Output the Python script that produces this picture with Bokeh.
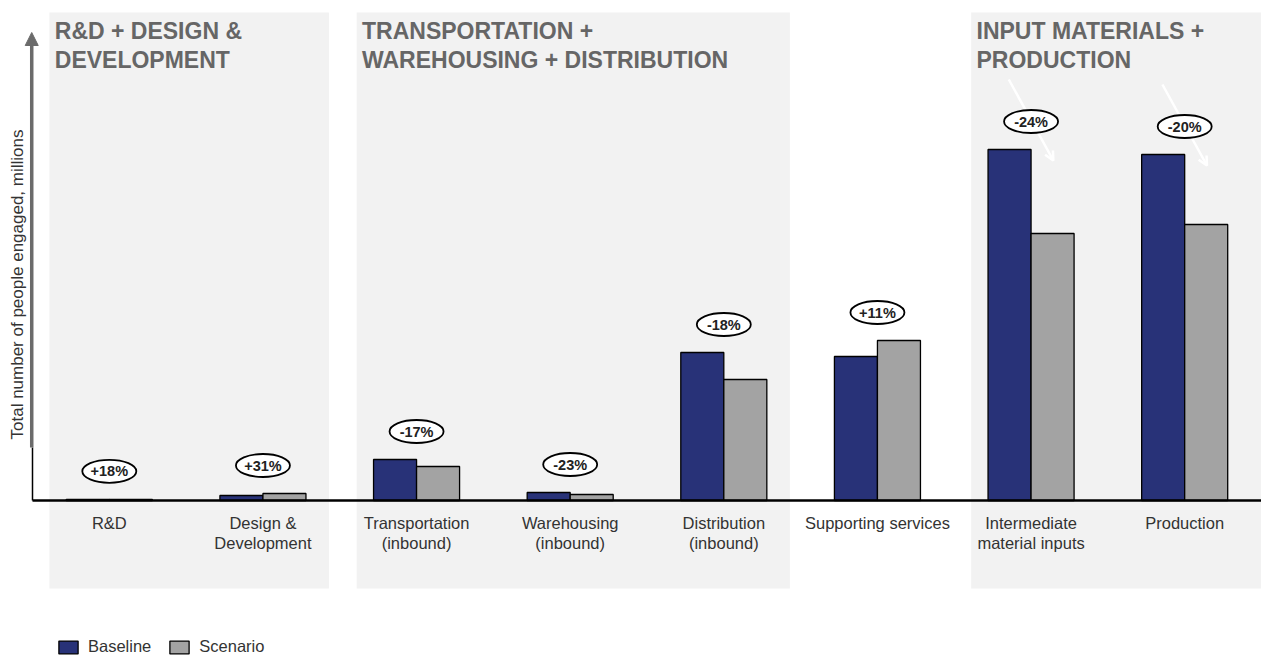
from bokeh.plotting import figure
from bokeh.models import Range1d, ColumnDataSource, Legend, LegendItem, Arrow, NormalHead, OpenHead
from bokeh.core.properties import value
from bokeh.embed import file_html
from bokeh.resources import INLINE
import numpy as np

# ---------------- data ----------------
categories = ["R&D", "Design &\nDevelopment", "Transportation\n(inbound)", "Warehousing\n(inbound)",
              "Distribution\n(inbound)", "Supporting services", "Intermediate\nmaterial inputs", "Production"]
baseline = [0.10, 0.5, 4.1, 0.8, 14.8, 14.4, 35.1, 34.6]
scenario = [0.12, 0.7, 3.4, 0.6, 12.1, 16.0, 26.7, 27.6]
changes = ["+18%", "+31%", "-17%", "-23%", "-18%", "+11%", "-24%", "-20%"]
groups = ["R&D + DESIGN &\nDEVELOPMENT", "TRANSPORTATION +\nWAREHOUSING + DISTRIBUTION", "INPUT MATERIALS +\nPRODUCTION"]
group_first = [0, 2, 6]
group_last = [1, 4, 7]
arrow_cats = [6, 7]
series = ["Baseline", "Scenario"]
y_title = "Total number of people engaged, millions"

# ---------------- style ----------------
FONT = value("Liberation Sans")
NAVY = "#283278"
GREY = "#a3a3a3"
BAND = "#f2f2f2"
TITLE_C = "#666666"
TEXT_C = "#333333"
BW = 0.28          # width of each bar (category units)
PAD_L, PAD_R = 0.39, 0.43
X0, X1 = -0.7083, 7.5

n = len(categories)
idx = np.arange(n)

p = figure(width=1261, height=655, x_range=Range1d(X0, X1), y_range=Range1d(-15.5, 50),
           output_backend="svg", toolbar_location=None, min_border=0)
p.axis.visible = False
p.grid.visible = False
p.outline_line_color = None
p.background_fill_color = "white"

# group bands
band_left = [group_first[g] - PAD_L for g in range(len(groups))]
band_right = [X1 + 0.1 if group_last[g] == n - 1 else group_last[g] + PAD_R for g in range(len(groups))]
p.quad(left=band_left, right=band_right, bottom=-8.8, top=48.8, fill_color=BAND, line_color=None)
p.text(x=[l + 0.035 for l in band_left], y=48.3, text=groups, text_font=FONT, text_font_size=value("23px"),
       text_font_style="bold", text_color=TITLE_C, text_align="left", text_baseline="top",
       text_line_height=1.13)

# bars
src = ColumnDataSource(dict(xb=idx - BW / 2, xs=idx + BW / 2, b=baseline, s=scenario))
rb = p.vbar(x="xb", top="b", bottom=0, width=BW, source=src, fill_color=NAVY, line_color="black", line_width=1.3)
rs = p.vbar(x="xs", top="s", bottom=0, width=BW, source=src, fill_color=GREY, line_color="black", line_width=1.3)

# axes lines
p.segment(x0=[-0.5], y0=[0], x1=[X1], y1=[0], line_color="black", line_width=2.5)
p.segment(x0=[-0.5], y0=[0], x1=[-0.5], y1=[5.3], line_color="black", line_width=1.5)
p.add_layout(Arrow(end=NormalHead(size=13, fill_color="#6b6b6b", line_color="#6b6b6b"),
                   x_start=-0.505, y_start=5.3, x_end=-0.505, y_end=46.8,
                   line_color="#6b6b6b", line_width=3.5))
p.text(x=[-0.598], y=[21.6], text=[y_title], angle=np.pi / 2, text_font=FONT, text_font_size=value("17px"),
       text_color=TEXT_C, text_align="center", text_baseline="middle")

# category labels
p.text(x=idx, y=-1.3, text=categories, text_font=FONT, text_font_size=value("16.5px"), text_color=TEXT_C,
       text_align="center", text_baseline="top", text_line_height=1.15)

# white arrows
asrc = ColumnDataSource(dict(x0=[i - 0.145 for i in arrow_cats], y0=[baseline[i] + 7.0 for i in arrow_cats],
                             x1=[i + 0.145 for i in arrow_cats], y1=[baseline[i] - 1.1 for i in arrow_cats]))
p.add_layout(Arrow(end=OpenHead(size=9, line_color="white", line_width=2.5), source=asrc,
                   x_start="x0", y_start="y0", x_end="x1", y_end="y1", line_color="white", line_width=2.5))

# change ellipses (drawn above the white arrows)
ytop = np.maximum(baseline, scenario) + 2.8
re = p.ellipse(x=idx, y=ytop, width=54, height=23, width_units="screen", height_units="screen",
               fill_color="white", line_color="black", line_width=1.8)
rt = p.text(x=idx, y=ytop, text=changes, text_font=FONT, text_font_size=value("14.5px"), text_color="#222222",
            text_font_style="bold", text_align="center", text_baseline="middle")
re.level = "overlay"
rt.level = "overlay"

# legend
legend = Legend(items=[LegendItem(label=series[0], renderers=[rb]), LegendItem(label=series[1], renderers=[rs])],
                orientation="horizontal", location=(56, -1), glyph_width=24, glyph_height=16,
                label_text_font_size="16.5px", label_text_font="Liberation Sans", label_text_color=TEXT_C,
                label_standoff=8, spacing=16, padding=0, margin=0, border_line_alpha=0, background_fill_alpha=0)
p.add_layout(legend)

open("out.html", "w").write(file_html(p, INLINE))
